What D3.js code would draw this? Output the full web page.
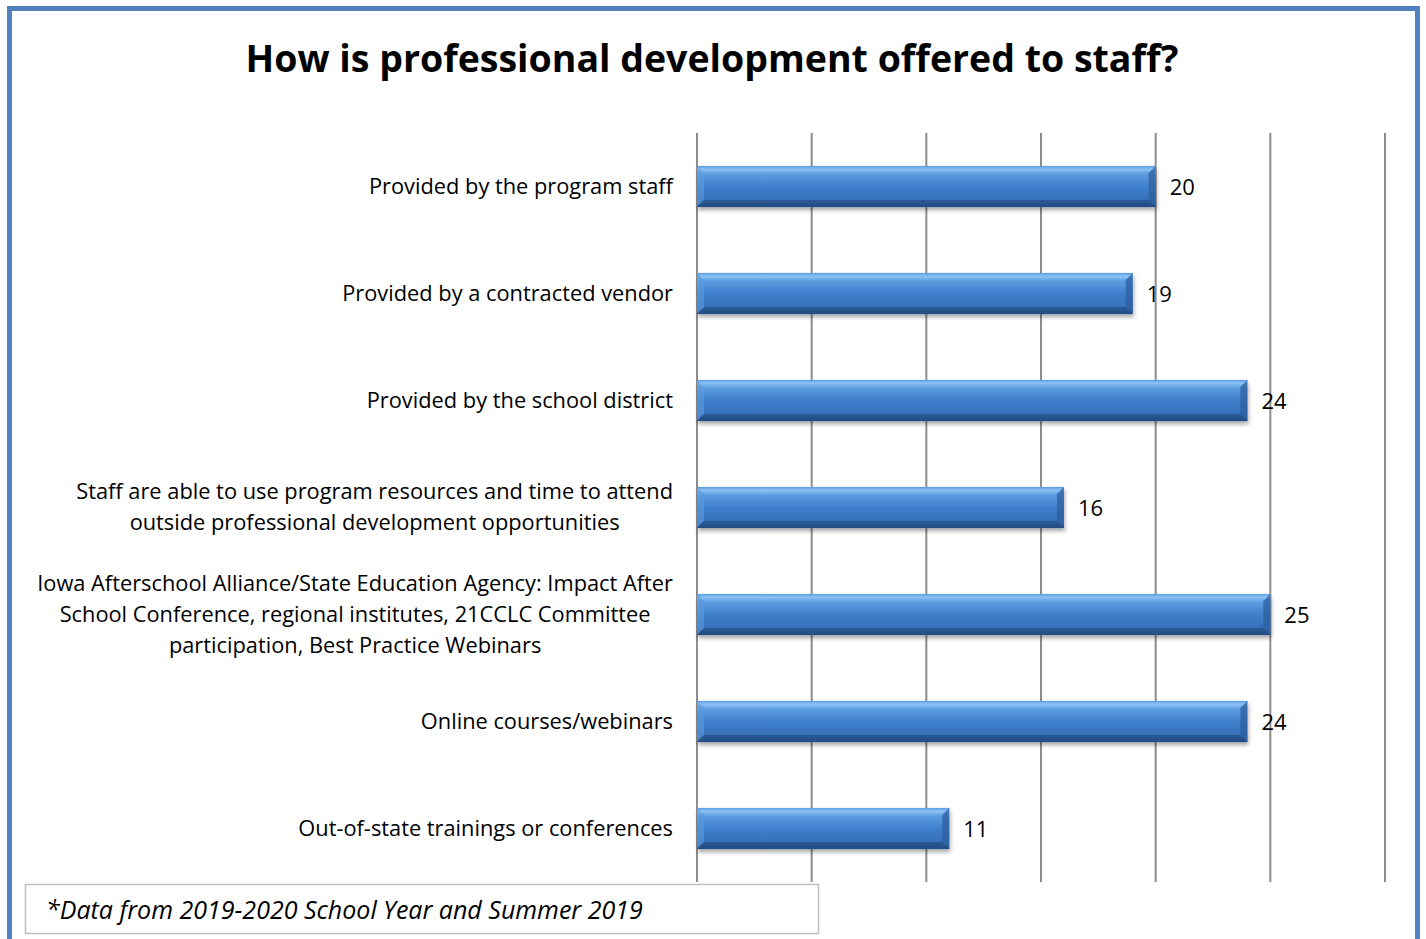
<!DOCTYPE html>
<html><head><meta charset="utf-8">
<script src="https://cdn.jsdelivr.net/npm/d3@7"></script>
<style>html,body{margin:0;padding:0;background:#fff;}svg{display:block;}</style>
</head><body>
<script>
const title = "How is professional development offered to staff?";
const categories = [
  ["Provided by the program staff"],
  ["Provided by a contracted vendor"],
  ["Provided by the school district"],
  ["Staff are able to use program resources and time to attend", "outside professional development opportunities"],
  ["Iowa Afterschool Alliance/State Education Agency: Impact After", "School Conference, regional institutes, 21CCLC Committee", "participation, Best Practice Webinars"],
  ["Online courses/webinars"],
  ["Out-of-state trainings or conferences"]
];
const values = [20, 19, 24, 16, 25, 24, 11];
const xTicks = [0, 5, 10, 15, 20, 25, 30];
const footnote = "*Data from 2019-2020 School Year and Summer 2019";

const W = 1426, H = 939;
const svg = d3.select("body").append("svg").attr("width", W).attr("height", H);
const font = "'Open Sans', 'Noto Sans', sans-serif";

const defs = svg.append("defs");
const grad = defs.append("linearGradient").attr("id", "barGrad").attr("x1", 0).attr("y1", 0).attr("x2", 0).attr("y2", 1);
[[0, "#5b9be3"], [0.08, "#8cc3f5"], [0.2, "#5c9ce0"], [0.5, "#3f7fcc"], [0.85, "#3570b8"], [1, "#244f86"]]
  .forEach(([o, c]) => grad.append("stop").attr("offset", o).attr("stop-color", c));
const sh = defs.append("filter").attr("id", "shadow").attr("x", "-5%").attr("y", "-20%").attr("width", "110%").attr("height", "160%");
sh.append("feGaussianBlur").attr("in", "SourceAlpha").attr("stdDeviation", 2);
sh.append("feOffset").attr("dx", 1).attr("dy", 3).attr("result", "ob");
sh.append("feComponentTransfer").append("feFuncA").attr("type", "linear").attr("slope", 0.35);
const mg = sh.append("feMerge"); mg.append("feMergeNode"); mg.append("feMergeNode").attr("in", "SourceGraphic");

// frame
svg.append("rect").attr("x", 9.5).attr("y", 8.5).attr("width", 1408).attr("height", 945)
  .attr("fill", "#fff").attr("stroke", "#4f81bd").attr("stroke-width", 5);

svg.append("text").attr("x", 712).attr("y", 72).attr("text-anchor", "middle")
  .attr("font-family", font).attr("font-weight", 700).attr("font-size", 37.5).attr("fill", "#000").text(title);

const x = d3.scaleLinear().domain([0, 30]).range([697, 1385]);
const y = d3.scaleBand().domain(d3.range(categories.length)).range([133, 882]).paddingInner(0.615).paddingOuter(0.3075);

// grid
svg.append("g").selectAll("line").data(xTicks).join("line")
  .attr("x1", d => x(d)).attr("x2", d => x(d)).attr("y1", 133).attr("y2", 882)
  .attr("stroke", "#8c8c8c").attr("stroke-width", 2);

// bars
const bars = svg.append("g").selectAll("g").data(values).join("g");
bars.append("rect").attr("x", x(0)).attr("y", (d, i) => y(i)).attr("width", d => x(d) - x(0))
  .attr("height", y.bandwidth()).attr("fill", "url(#barGrad)").attr("filter", "url(#shadow)");
bars.append("path").attr("d", (d, i) => {
  const x1 = x(d), y0 = y(i), b = y.bandwidth(), e = 7;
  return `M${x1},${y0}L${x1},${y0 + b}L${x1 - e},${y0 + b - e}L${x1 - e},${y0 + e}Z`;
}).attr("fill", "#2c5f9f").attr("opacity", 0.75);
bars.append("path").attr("d", (d, i) => {
  const x0 = x(0), y0 = y(i), b = y.bandwidth(), e = 7;
  return `M${x0},${y0}L${x0},${y0 + b}L${x0 + e},${y0 + b - e}L${x0 + e},${y0 + e}Z`;
}).attr("fill", "#5d9be0").attr("opacity", 0.6);
bars.append("path").attr("d", (d, i) => {
  const x0 = x(0), x1 = x(d), y0 = y(i), b = y.bandwidth(), e = 7;
  return `M${x0},${y0 + b}L${x1},${y0 + b}L${x1 - e},${y0 + b - e}L${x0 + e},${y0 + b - e}Z`;
}).attr("fill", "#234a7e").attr("opacity", 0.6);

// value labels
svg.append("g").selectAll("text").data(values).join("text")
  .attr("x", d => x(d) + 14).attr("y", (d, i) => y(i) + y.bandwidth() / 2 + 8)
  .attr("font-family", font).attr("font-size", 22).attr("fill", "#000").text(d => d);

// category labels
const labelRight = 673, lh = 31;
categories.forEach((lines, i) => {
  const g = svg.append("text").attr("font-family", font).attr("font-size", 21.8).attr("fill", "#000").attr("text-anchor", "middle");
  const cy = y(i) + y.bandwidth() / 2;
  const ts = lines.map((l, j) => g.append("tspan").attr("y", cy + 7 + (j - (lines.length - 1) / 2) * lh).text(l));
  const maxW = d3.max(ts, t => t.node().getComputedTextLength());
  ts.forEach(t => t.attr("x", labelRight - maxW / 2));
});

// footnote
svg.append("rect").attr("x", 25.5).attr("y", 884.5).attr("width", 793).attr("height", 49)
  .attr("fill", "#fff").attr("stroke", "#bfbfbf").attr("stroke-width", 1.5);
svg.append("text").attr("x", 46).attr("y", 919).attr("font-family", font).attr("font-style", "italic")
  .attr("font-size", 25).attr("fill", "#000").text(footnote);
</script>
</body></html>
